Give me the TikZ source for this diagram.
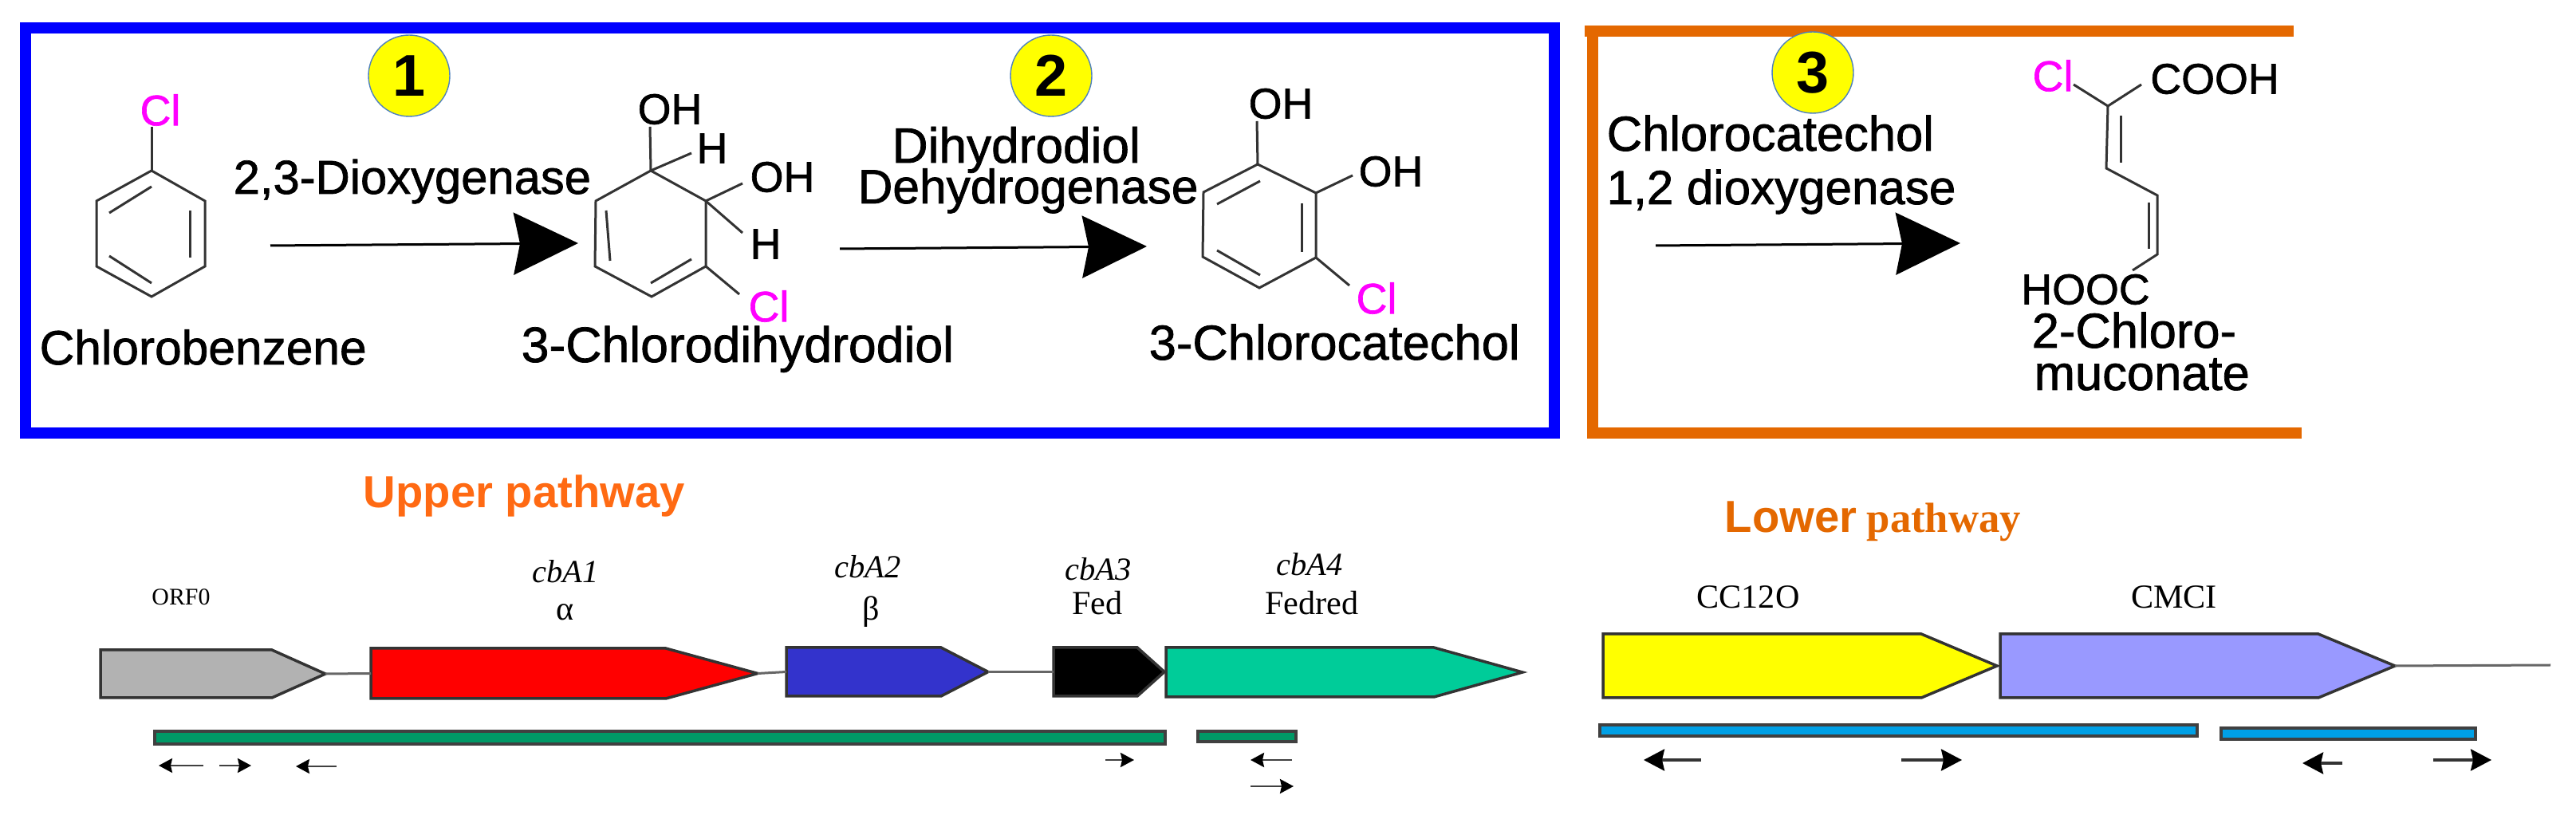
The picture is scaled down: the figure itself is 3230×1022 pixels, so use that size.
\documentclass[tikz,border=0pt]{standalone}
\usepackage{fontspec}
\setmainfont{Liberation Sans}
\newfontfamily\chemfont[BoldFont={Liberation Sans},BoldFeatures={FakeBold=1.2}]{Liberation Sans}
\newfontfamily\titlefont{Liberation Sans}
\newfontfamily\genefont{Liberation Serif}
\usetikzlibrary{arrows.meta, positioning, shapes.symbols}
\definecolor{framebrown}{RGB}{228,104,0}
\definecolor{upperorange}{RGB}{255,106,19}
\definecolor{barblue}{RGB}{0,160,230}
\definecolor{clpink}{RGB}{255,0,255}
\definecolor{stepyellow}{RGB}{255,255,0}
\definecolor{ringblue}{RGB}{79,129,189}
\definecolor{genegray}{RGB}{178,178,178}
\definecolor{genered}{RGB}{255,0,0}
\definecolor{geneblue}{RGB}{51,51,204}
\definecolor{genegreen}{RGB}{0,204,153}
\definecolor{genepurple}{RGB}{153,153,255}
\definecolor{bargreen}{RGB}{0,153,102}

\begin{document}
\begin{tikzpicture}[
    x=0.1mm, y=-0.1mm,
    bond/.style={line width=0.3mm, black!80},
    frameline/.style={line width=1.4mm},
    numdisc/.style={circle, draw=ringblue, fill=stepyellow, minimum size=10.2mm,
                   inner sep=0pt, font=\titlefont\fontsize{21}{21}\selectfont\bfseries},
    chemlabel/.style={inner sep=0pt, anchor=base west,
                   font=\chemfont\bfseries\fontsize{#1}{18}\selectfont},
    chemlabel/.default=17.5,
    atom/.style={inner sep=0pt, font=\chemfont\bfseries\fontsize{15.3}{16}\selectfont},
    chlorine/.style={atom, text=clpink},
    rxn/.style={line width=0.3mm, black, -{Stealth[length=8.1mm, width=7.8mm, inset=0.8mm]}},
    gene/.style={signal, signal to=east, anchor=west, draw=black!80, line width=0.35mm,
                 inner sep=0pt, outer sep=0pt},
    genelabel/.style={inner sep=0pt, font=\genefont\fontsize{12}{12}\selectfont},
    genename/.style={genelabel, font=\genefont\itshape\fontsize{11.5}{12}\selectfont},
    link/.style={line width=0.3mm, black!60},
    probe/.style={rectangle, anchor=west, draw=black!75, line width=0.35mm,
                  inner sep=0pt, outer sep=0pt},
    primer/.style={line width=0.25mm, black!75, -{Stealth[length=1.7mm, width=1.8mm, inset=0.2mm, black]}},
    bigprimer/.style={line width=0.35mm, black!80, -{Stealth[length=2.6mm, width=2.7mm, inset=0.3mm, black]}}
  ]
  \useasboundingbox (0,0) rectangle (3230,1022);

  % Frames
  \draw[frameline, blue] (32,35) rectangle (1948.5,543);
  \draw[frameline, framebrown] (1987,39) -- (2876,39);
  \draw[frameline, framebrown] (1997,39) -- (1997,543) -- (2886,543);

  % Step numbers
  \node[numdisc] (n1) at (513,95) {1};
  \node[numdisc] (n2) at (1318,95) {2};
  \node[numdisc] (n3) at (2273,91) {3};

  % Chlorobenzene
  \draw[bond] (190,214) -- (257,252) -- (257,334) -- (190,372) -- (121,334) -- (121,252) -- cycle;
  \draw[bond] (137,267) -- (190,234);
  \draw[bond] (238,264) -- (238,323);
  \draw[bond] (137,321) -- (190,355);
  \node[chlorine] (cl1) at (201,138) {Cl};
  \draw[bond] (190,214) -- (190,159);
  \node[chemlabel=17.2] (cb) at (49,457) {Chlorobenzene};

  % 3-Chlorodihydrodiol
  \draw[bond] (816,214) -- (885,252) -- (885,334) -- (817,372) -- (746,334) -- (747,252) -- cycle;
  \draw[bond] (760,264) -- (765,327);
  \draw[bond] (816,355) -- (867,325);
  \node[atom] (oh1) at (840,137) {OH};
  \node[atom] (h1) at (893,186) {H};
  \node[atom] (oh2) at (981,222) {OH};
  \node[atom] (h2) at (960,306) {H};
  \node[chlorine] (cl2) at (964,384) {Cl};
  \draw[bond] (816,214) -- (815,159);
  \draw[bond] (816,214) -- (867,192);
  \draw[bond] (885,252) -- (931,230);
  \draw[bond] (885,252) -- (931,292);
  \draw[bond] (885,334) -- (927,369);
  \node[chemlabel=17.8] (cd) at (653,454) {3-Chlorodihydrodiol};

  % 3-Chlorocatechol
  \draw[bond] (1577,206) -- (1650,242) -- (1650,323) -- (1579,361) -- (1508,322) -- (1509,241) -- cycle;
  \draw[bond] (1526,256) -- (1580,227);
  \draw[bond] (1632,255) -- (1632,316);
  \draw[bond] (1526,314) -- (1580,345);
  \node[atom] (oh3) at (1606,130) {OH};
  \node[atom] (oh4) at (1744,215) {OH};
  \node[chlorine] (cl3) at (1726,374) {Cl};
  \draw[bond] (1577,206) -- (1576,152);
  \draw[bond] (1650,242) -- (1696,220);
  \draw[bond] (1650,323) -- (1692,358);
  \node[chemlabel] (cc) at (1440,451) {3-Chlorocatechol};

  % 2-Chloromuconate
  \node[chlorine] (cl4) at (2574,95) {Cl};
  \node[atom] (cooh) at (2777,99) {COOH};
  \node[atom] (hooc) at (2615,363) {HOOC};
  \draw[bond] (2600,106) -- (2643,133) -- (2685,106);
  \draw[bond] (2643,133) -- (2641,211) -- (2705,245) -- (2705,319) -- (2674,339);
  \draw[bond] (2659,145) -- (2659,204);
  \draw[bond] (2694,254) -- (2694,312);
  \node[chemlabel] (cm1) at (2547,436) {2-Chloro-};
  \node[chemlabel] (cm2) at (2550,489) {muconate};

  % Enzymes
  \node[chemlabel=17] (e1) at (292,243) {2,3-Dioxygenase};
  \node[chemlabel=17.7] (e2a) at (1118,204) {Dihydrodiol};
  \node[chemlabel=17.2] (e2b) at (1075,255) {Dehydrogenase};
  \node[chemlabel] (e3a) at (2014,189) {Chlorocatechol};
  \node[chemlabel=17.1] (e3b) at (2014,256) {1,2 dioxygenase};

  % Reactions
  \coordinate (r1s) at (339,308);
  \coordinate (r1e) at (725,305);
  \coordinate (r2s) at (1053,312);
  \coordinate (r2e) at (1438,309);
  \coordinate (r3s) at (2076,308);
  \coordinate (r3e) at (2458,305);
  \foreach \r in {r1,r2,r3} {
    \draw[rxn] (\r s) -- (\r e);
  }

  % Pathway titles
  \node[inner sep=0pt, anchor=base west, text=upperorange, font=\titlefont\fontsize{16}{16}\selectfont\bfseries]
    (upper) at (455,637) {Upper pathway};
  \node[inner sep=0pt, anchor=base west, text=framebrown, font=\titlefont\fontsize{16}{16}\selectfont\bfseries]
    (lower) at (2162,668) {Lower};
  \node[inner sep=0pt, anchor=base west, text=framebrown, font=\genefont\fontsize{15}{15}\selectfont\bfseries]
    (lowerb) at (2340,668) {pathway};

  % Upper genes
  \node[gene, fill=genegray, minimum width=28.2mm, minimum height=6mm, signal pointer angle=48.2]
    (orf) at (126,845) {};
  \node[gene, fill=genered, minimum width=48.5mm, minimum height=6.3mm, signal pointer angle=30.6]
    (cbai) at (465,844.5) {};
  \node[gene, fill=geneblue, minimum width=25.3mm, minimum height=6.1mm, signal pointer angle=54.6]
    (cbaii) at (986,842.5) {};
  \node[gene, fill=black, minimum width=13.9mm, minimum height=6.1mm, signal pointer angle=83.8]
    (cbaiii) at (1321,842.5) {};
  \node[gene, fill=genegreen, minimum width=44.7mm, minimum height=6.2mm, signal pointer angle=31.2]
    (cbaiv) at (1462,843) {};
  \draw[link] (orf.east) -- (cbai.west);
  \draw[link] (cbai.east) -- (cbaii.west);
  \draw[link] (cbaii.east) -- (cbaiii.west);

  % Upper gene labels
  \node[genelabel, font=\genefont\fontsize{8.5}{9}\selectfont] (orfl) at (227,749) {ORF0};
  \node[genename] (n1l) at (709,717) {cbA1};
  \node[genelabel] (a1l) at (709,768) {α};
  \node[genename] (n2l) at (1088,711) {cbA2};
  \node[genelabel] (a2l) at (1092,767) {β};
  \node[genename] (n3l) at (1377,714) {cbA3};
  \node[genelabel] (a3l) at (1376,756) {Fed};
  \node[genename] (n4l) at (1642,708) {cbA4};
  \node[genelabel] (a4l) at (1645,756) {Fedred};

  % Upper probes
  \node[probe, fill=bargreen, minimum width=126.7mm, minimum height=1.6mm] (pa) at (194,925) {};
  \node[probe, fill=bargreen, minimum width=12.3mm, minimum height=1.3mm] (pb) at (1502,923.5) {};

  % Upper primers
  \foreach \i/\a/\b/\y in {1/255/199/960, 2/275/315/960, 3/422/371/961,
                           4/1386/1422/953, 5/1620/1568/953, 6/1568/1622/986} {
    \coordinate (u\i s) at (\a,\y);
    \coordinate (u\i e) at (\b,\y);
    \draw[primer] (u\i s) -- (u\i e);
  }

  % Lower genes
  \node[gene, fill=stepyellow, minimum width=49.4mm, minimum height=8mm, signal pointer angle=45.7]
    (cco) at (2010,835) {};
  \node[gene, fill=genepurple, minimum width=49.5mm, minimum height=8mm, signal pointer angle=45.2]
    (cmci) at (2508,835) {};
  \coordinate (tail) at (3198,834);
  \draw[link] (cmci.east) -- (tail);
  \node[genelabel] (ccol) at (2192,749) {CC12O};
  \node[genelabel] (cmcil) at (2726,749) {CMCI};

  % Lower probes
  \node[probe, fill=barblue, minimum width=74.9mm, minimum height=1.4mm] (pc) at (2006,916) {};
  \node[probe, fill=barblue, minimum width=31.9mm, minimum height=1.4mm] (pd) at (2785,920) {};

  % Lower primers
  \foreach \i/\a/\b/\y in {1/2133/2061/953, 2/2384/2460/953, 3/2937/2887/957, 4/3051/3124/953} {
    \coordinate (l\i s) at (\a,\y);
    \coordinate (l\i e) at (\b,\y);
    \draw[bigprimer] (l\i s) -- (l\i e);
  }
\end{tikzpicture}
\end{document}
